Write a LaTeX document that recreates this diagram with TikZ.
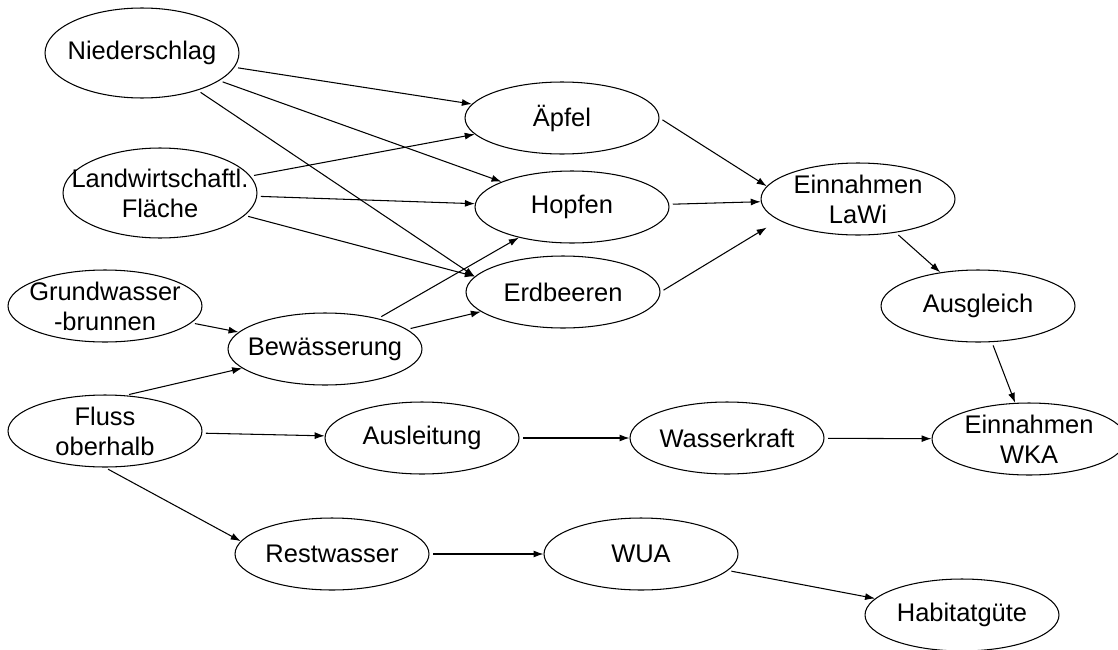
\documentclass[tikz,border=0pt]{standalone}
\usepackage{fontspec}
\setmainfont{Liberation Sans}
\usetikzlibrary{shapes.geometric,arrows.meta}
\begin{document}
\begin{tikzpicture}[x=0.02cm, y=-0.02cm, line width=0.6pt,
  blob/.style={draw, ellipse, inner sep=0pt, minimum width=3.88cm, minimum height=1.44cm},
  big/.style={blob, minimum height=1.8cm},
  txt/.style={align=center, font=\fontsize{14.5}{17}\selectfont}]

\useasboundingbox (0,0) rectangle (1118,649);
\foreach \n/\s/\x/\y/\t in {nied/big/142/53/Niederschlag, lwf/big/160/193/{Landwirtschaftl.\\Fläche},
    gwb/blob/105/306/{Grundwasser\\-brunnen}, bew/blob/325/349/Bewässerung, fluss/blob/105/431/{Fluss\\oberhalb},
    ausl/blob/422/438/Ausleitung, apf/blob/562/118/Äpfel, hopf/blob/572/207/Hopfen, erdb/blob/563/292/Erdbeeren,
    lawi/blob/858/199/{Einnahmen\\LaWi}, ausg/blob/978/306/Ausgleich, wka/blob/1029/439/{Einnahmen\\WKA},
    wkr/blob/727/438/Wasserkraft, rest/blob/332/554/Restwasser, wua/blob/641/554/WUA, hab/blob/962/615/Habitatgüte}
  {\node[\s] (\n) at (\x,\y) {};
   \node[txt] at (\n) {\t};}
\foreach \a/\b/\g in {nied/apf/0, nied/hopf/0, nied/erdb.170/0, lwf/apf/0, lwf/hopf/0, lwf/erdb.170/0, gwb/bew/0,
    bew/hopf/0, bew/erdb/0, fluss.60/bew/0, fluss/ausl/0, fluss.south/rest.172/0, apf.east/lawi.172/0, hopf/lawi/0,
    erdb.east/lawi.195/8, lawi/ausg/0, ausg/wka/0, ausl/wkr/0, wkr/wka/0, rest/wua/0, wua/hab/0}
  \draw[-{Latex[length=0.2cm,width=0.14cm]}, shorten <=2pt, shorten >=\g pt] (\a) -- (\b);
\end{tikzpicture}
\end{document}
